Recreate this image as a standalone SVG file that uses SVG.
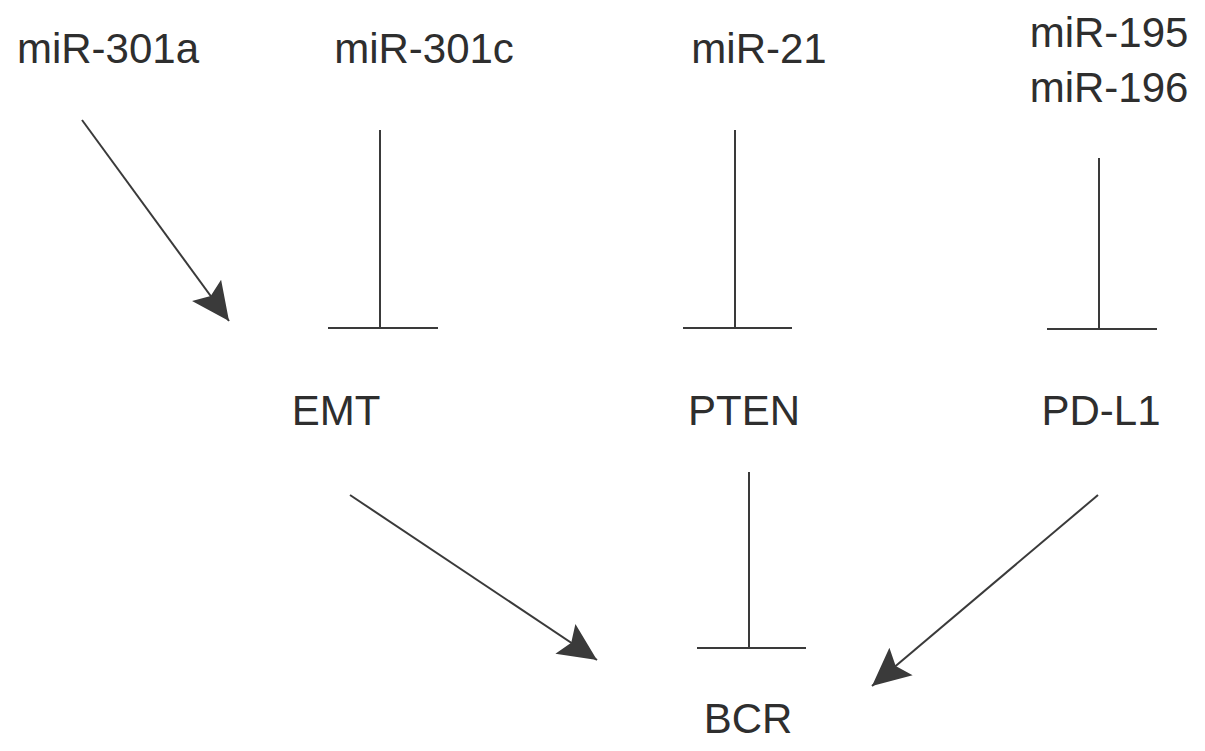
<svg xmlns="http://www.w3.org/2000/svg" width="1205" height="751" viewBox="0 0 1205 751">
<style>
text{font-family:"Liberation Sans",Arial,sans-serif;font-size:42px;fill:#2e2e2e;text-anchor:middle}
.l{stroke:#3a3a3a;stroke-width:2;fill:none}
</style>
<defs>
<marker id="ah" markerUnits="userSpaceOnUse" viewBox="-40 -20 42 40" refX="0" refY="0" markerWidth="42" markerHeight="40" orient="auto">
<path d="M0,0 L-38,-18 L-31,0 L-38,18 Z" fill="#3a3a3a"/>
</marker>
</defs>
<rect width="1205" height="751" fill="#fff"/>
<g id="n-mir301a"><text x="108" y="63">miR-301a</text></g>
<g id="n-mir301c"><text x="424" y="63">miR-301c</text></g>
<g id="n-mir21"><text x="759" y="63">miR-21</text></g>
<g id="n-mir195"><text x="1109" y="47">miR-195</text><text x="1109" y="102">miR-196</text></g>
<g id="n-emt"><text x="336" y="425">EMT</text></g>
<g id="n-pten"><text x="744" y="425">PTEN</text></g>
<g id="n-pdl1"><text x="1101" y="425">PD-L1</text></g>
<g id="n-bcr"><text x="748" y="733">BCR</text></g>
<g id="connectors">
<line class="l" x1="82" y1="120" x2="229" y2="321" marker-end="url(#ah)"/>
<line class="l" x1="380" y1="130" x2="380" y2="328"/><line class="l" x1="328" y1="328" x2="438" y2="328"/>
<line class="l" x1="735" y1="130" x2="735" y2="328"/><line class="l" x1="683" y1="328" x2="792" y2="328"/>
<line class="l" x1="1099" y1="158" x2="1099" y2="329"/><line class="l" x1="1047" y1="329" x2="1157" y2="329"/>
<line class="l" x1="749" y1="472" x2="749" y2="648"/><line class="l" x1="697" y1="648" x2="806" y2="648"/>
<line class="l" x1="350" y1="495" x2="597" y2="660" marker-end="url(#ah)"/>
<line class="l" x1="1098" y1="495" x2="872" y2="686" marker-end="url(#ah)"/>
</g>
</svg>
